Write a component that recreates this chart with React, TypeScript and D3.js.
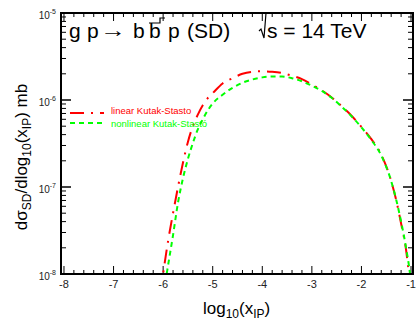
import React from "react";
import * as d3 from "d3";

const W = 416;
const H = 322;

// log10(x_IP) and dσ/dlog10(x_IP) [mb]
const xLinear = [-6.05, -6.0, -5.9, -5.8, -5.7, -5.6, -5.5, -5.4, -5.3, -5.2, -5.1, -5.0, -4.8, -4.6, -4.4, -4.2, -4.0, -3.8, -3.6, -3.4, -3.2, -3.0, -2.8, -2.6, -2.4, -2.2, -2.0, -1.8, -1.6, -1.4, -1.3, -1.2, -1.1, -1.04, -1.0];
const yLinear = [6e-9, 1.0e-8, 2.4e-8, 5.0e-8, 1.0e-7, 1.9e-7, 3.3e-7, 5.0e-7, 6.8e-7, 8.7e-7, 1.05e-6, 1.2e-6, 1.55e-6, 1.78e-6, 2.0e-6, 2.11e-6, 2.14e-6, 2.11e-6, 2.04e-6, 1.9e-6, 1.74e-6, 1.51e-6, 1.29e-6, 1.07e-6, 8.5e-7, 6.6e-7, 4.9e-7, 3.55e-7, 2.35e-7, 1.17e-7, 7.1e-8, 3.8e-8, 1.9e-8, 1.0e-8, 7e-9];

const xNonlinear = [-6.0, -5.95, -5.9, -5.8, -5.7, -5.6, -5.5, -5.4, -5.3, -5.2, -5.1, -5.0, -4.8, -4.6, -4.4, -4.2, -4.0, -3.8, -3.6, -3.4, -3.2, -3.0, -2.8, -2.6, -2.4, -2.2, -2.0, -1.8, -1.6, -1.4, -1.3, -1.2, -1.1, -1.02, -0.98];
const yNonlinear = [5e-9, 8.3e-9, 1.26e-8, 2.8e-8, 6.6e-8, 1.26e-7, 2.1e-7, 3.2e-7, 4.6e-7, 6.0e-7, 7.6e-7, 9.1e-7, 1.15e-6, 1.38e-6, 1.58e-6, 1.72e-6, 1.82e-6, 1.86e-6, 1.86e-6, 1.78e-6, 1.64e-6, 1.46e-6, 1.27e-6, 1.06e-6, 8.4e-7, 6.5e-7, 4.85e-7, 3.47e-7, 2.3e-7, 1.17e-7, 7.2e-8, 4.0e-8, 2.0e-8, 1.0e-8, 6e-9];

const xTickValues = [-8, -7, -6, -5, -4, -3, -2, -1];
const yDecades = [-8, -7, -6, -5];

const legendLabels = ["linear Kutak-Stasto", "nonlinear Kutak-Stastó"];
const seriesColors = ["#ff0000", "#00ff00"];

const FONT = "Liberation Sans, Arial, Helvetica, sans-serif";

export default function App() {
  const left = 61, right = 413, top = 13, bottom = 274;
  const x = d3.scaleLinear().domain([-8.06, -0.96]).range([left, right]);
  const y = d3.scaleLog().domain([1e-8, 1e-5]).range([bottom, top]);

  const line = d3
    .line<[number, number]>()
    .x((d) => x(d[0]))
    .y((d) => y(d[1]))
    .curve(d3.curveMonotoneX);

  const linPts = xLinear.map((v, i) => [v, yLinear[i]] as [number, number]);
  const nonPts = xNonlinear.map((v, i) => [v, yNonlinear[i]] as [number, number]);

  // x ticks: major each unit, minor every 0.2
  const xMinor: number[] = d3.range(-8, -0.99, 0.2).map((v) => Math.round(v * 10) / 10);
  // y ticks: major per decade, minor 2..9
  const yMinor: number[] = [];
  for (let e = -8; e < -5; e++) for (let m = 2; m <= 9; m++) yMinor.push(m * Math.pow(10, e));

  const majLenY = 10, minLenY = 5, majLenX = 8, minLenX = 4;

  return (
    <svg width={W} height={H} style={{ position: "absolute", left: 0, top: 0, background: "#fff" }} fontFamily={FONT}>
      <defs>
        <clipPath id="plotclip">
          <rect x={left} y={top} width={right - left} height={bottom - top} />
        </clipPath>
      </defs>
      <rect x={0} y={0} width={W} height={H} fill="#fff" />

      {/* ticks */}
      <g stroke="#000" strokeWidth={1}>
        {xMinor.map((v, i) => {
          const isMaj = Math.abs(v - Math.round(v)) < 1e-6;
          const L = isMaj ? majLenX : minLenX;
          return (
            <g key={"xt" + i}>
              <line x1={x(v)} x2={x(v)} y1={bottom} y2={bottom - L} />
              <line x1={x(v)} x2={x(v)} y1={top} y2={top + L} />
            </g>
          );
        })}
        {yDecades.map((e) => (
          <g key={"yM" + e}>
            <line x1={left} x2={left + majLenY} y1={y(Math.pow(10, e))} y2={y(Math.pow(10, e))} strokeWidth={1.5} />
            <line x1={right} x2={right - majLenY} y1={y(Math.pow(10, e))} y2={y(Math.pow(10, e))} strokeWidth={1.5} />
          </g>
        ))}
        {yMinor.map((v, i) => (
          <g key={"ym" + i}>
            <line x1={left} x2={left + minLenY} y1={y(v)} y2={y(v)} />
            <line x1={right} x2={right - minLenY} y1={y(v)} y2={y(v)} />
          </g>
        ))}
      </g>

      {/* curves */}
      <g clipPath="url(#plotclip)" fill="none">
        <path d={line(linPts) || ""} stroke={seriesColors[0]} strokeWidth={2} strokeDasharray="14 7 2 7" />
        <path d={line(nonPts) || ""} stroke={seriesColors[1]} strokeWidth={2} strokeDasharray="5 4" />
      </g>

      {/* frame */}
      <rect x={left} y={top} width={right - left} height={bottom - top} fill="none" stroke="#000" strokeWidth={2} />

      {/* x tick labels */}
      <g fontSize={11} fill="#222" textAnchor="middle">
        {xTickValues.map((v) => (
          <text key={"xl" + v} x={x(v)} y={288}>
            {String(v)}
          </text>
        ))}
      </g>

      {/* y tick labels */}
      <g fill="#222">
        {yDecades.map((e) => (
          <text key={"yl" + e} x={56} y={y(Math.pow(10, e)) + 6} textAnchor="end" fontSize={10}>
            10
            <tspan dy={-5} fontSize={7}>{String(e)}</tspan>
          </text>
        ))}
      </g>

      {/* x axis title */}
      <text x={203} y={314} fontSize={17} fill="#000">
        log
        <tspan fontSize={12} dy={4}>10</tspan>
        <tspan dy={-4}>(x</tspan>
        <tspan fontSize={12} dy={4}>IP</tspan>
        <tspan dy={-4}>)</tspan>
      </text>

      {/* y axis title */}
      <text transform="translate(27,157) rotate(-90)" textAnchor="middle" fontSize={17} fill="#000">
        dσ
        <tspan fontSize={12} dy={4}>SD</tspan>
        <tspan dy={-4}>/dlog</tspan>
        <tspan fontSize={12} dy={4}>10</tspan>
        <tspan dy={-4}>(x</tspan>
        <tspan fontSize={12} dy={4}>IP</tspan>
        <tspan dy={-4}>) mb</tspan>
      </text>

      {/* title */}
      <g fontSize={21} fill="#000">
        <text x={69} y={38}>g</text>
        <text x={87} y={38}>p</text>
        <text transform="translate(100,37) scale(1.3,1)" fontSize={20}>→</text>
        <text x={133} y={38}>b</text>
        <text x={149} y={38}>b</text>
        <text x={168} y={38}>p</text>
        <text x={187} y={38}>(SD)</text>
        <text x={267} y={38}>s = 14 TeV</text>
      </g>
      <path d="M149,23 H160 V18 H165" fill="none" stroke="#000" strokeWidth={1.2} />
      <path d="M259,31 L261,29 L264,38 L266,13 H280" fill="none" stroke="#000" strokeWidth={1.2} />

      {/* legend */}
      <line x1={70} x2={104} y1={113} y2={113} stroke={seriesColors[0]} strokeWidth={2} strokeDasharray="14 7 2 7" />
      <line x1={70} x2={104} y1={123} y2={123} stroke={seriesColors[1]} strokeWidth={2} strokeDasharray="5 4" />
      <text x={111} y={114} fontSize={9.5} fill={seriesColors[0]}>{legendLabels[0]}</text>
      <text x={111} y={127} fontSize={9.5} fill={seriesColors[1]}>{legendLabels[1]}</text>
    </svg>
  );
}
